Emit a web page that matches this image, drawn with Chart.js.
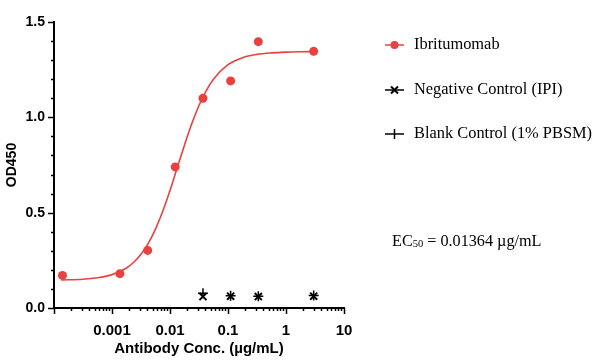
<!DOCTYPE html>
<html>
<head>
<meta charset="utf-8">
<script src="https://cdn.jsdelivr.net/npm/chart.js@4"></script>
<style>
  html, body { margin: 0; padding: 0; background: #fff; }
  #wrap { width: 605px; height: 364px; position: relative; }
</style>
</head>
<body>
<div id="wrap"><canvas id="chartElisa"></canvas></div>
<script>
  // ---- data ----
  const seriesNames = ["Ibritumomab", "Negative Control (IPI)", "Blank Control (1% PBSM)"];

  // Ibritumomab measured points
  const conc = [0.00014, 0.00137, 0.00412, 0.0123, 0.037, 0.111, 0.333, 3];
  const od   = [0.171, 0.180, 0.302, 0.740, 1.100, 1.191, 1.397, 1.346];

  // fitted curve as traced on the picture
  const fitConc = [0.000133, 0.000316, 0.000562, 0.001, 0.00178, 0.00237, 0.00316, 0.00422, 0.00562, 0.0075,
                   0.01, 0.0133, 0.0178, 0.0237, 0.0316, 0.0422, 0.0562, 0.1, 0.178, 0.316, 0.562, 1, 1.78, 3];
  const fitOD   = [0.147, 0.151, 0.159, 0.175, 0.210, 0.240, 0.282, 0.339, 0.414, 0.507,
                   0.616, 0.735, 0.855, 0.966, 1.062, 1.140, 1.200, 1.276, 1.313, 1.330, 1.338, 1.342, 1.344, 1.345];

  // controls
  const ctrlConc = [0.037, 0.111, 0.333, 3];
  const negOD    = [0.060, 0.062, 0.060, 0.062];
  const blankOD  = [0.078, 0.064, 0.062, 0.066];

  // ticks
  const xTicks = [0.001, 0.01, 0.1, 1, 10];
  const yTicks = [0, 0.5, 1.0, 1.5];

  const ec50Label = "0.01364 µg/mL";

  const RED = "#E8413F";
  const pts = (xs, ys) => xs.map((x, i) => ({ x: x, y: ys[i] }));

  // tick marks (major + minor) drawn on the library's scales
  const tickMarks = {
    id: "tickMarks",
    afterDraw(chart) {
      const ctx = chart.ctx;
      const xs = chart.scales.x, ys = chart.scales.y;
      const a = chart.chartArea;
      ctx.save();
      ctx.strokeStyle = "#000";
      ctx.lineWidth = 1.5;
      ctx.beginPath();
      for (let e = -4; e <= 1; e++) {
        for (let k = 1; k <= 9; k++) {
          const v = k * Math.pow(10, e);
          if (v < xs.min * 0.999 || v > xs.max * 1.001) continue;
          const px = Math.round(xs.getPixelForValue(v)) + 0.5;
          const len = k === 1 ? 6 : 3;
          ctx.moveTo(px, a.bottom);
          ctx.lineTo(px, a.bottom + len);
        }
      }
      for (let i = 0; i <= 15; i++) {
        const v = i / 10;
        const py = Math.round(ys.getPixelForValue(v)) + 0.5;
        const len = i % 5 === 0 ? 6 : 3;
        ctx.moveTo(a.left, py);
        ctx.lineTo(a.left - len, py);
      }
      ctx.stroke();
      ctx.restore();
    }
  };

  // legend + EC50 note to the right of the plot
  const sideNotes = {
    id: "sideNotes",
    afterDraw(chart) {
      const ctx = chart.ctx;
      const x0 = chart.chartArea.right + 41;
      const rows = [45, 90, 134];
      const serif = "'Liberation Serif', 'Times New Roman', serif";
      ctx.save();
      ctx.font = "16.4px " + serif;
      ctx.textBaseline = "middle";
      rows.forEach((y, i) => {
        const col = i === 0 ? RED : "#000";
        ctx.strokeStyle = col;
        ctx.fillStyle = col;
        ctx.lineWidth = 1.5;
        ctx.beginPath();
        ctx.moveTo(x0, y); ctx.lineTo(x0 + 19, y);
        ctx.stroke();
        const cx = x0 + 9.5;
        if (i === 0) {
          ctx.beginPath(); ctx.arc(cx, y, 4, 0, Math.PI * 2); ctx.fill();
        } else if (i === 1) {
          ctx.lineWidth = 2;
          ctx.beginPath();
          ctx.moveTo(cx - 3.5, y - 3.5); ctx.lineTo(cx + 3.5, y + 3.5);
          ctx.moveTo(cx + 3.5, y - 3.5); ctx.lineTo(cx - 3.5, y + 3.5);
          ctx.stroke();
        } else {
          ctx.lineWidth = 1.5;
          ctx.beginPath();
          ctx.moveTo(cx, y - 5); ctx.lineTo(cx, y + 5);
          ctx.stroke();
        }
        ctx.fillStyle = "#000";
        ctx.fillText(seriesNames[i], x0 + 29, y);
      });
      // EC50
      const ey = 242;
      const ex = x0 + 7;
      ctx.font = "16.2px " + serif;
      ctx.fillText("EC", ex, ey);
      let w = ctx.measureText("EC").width;
      ctx.font = "10.5px " + serif;
      ctx.fillText("50", ex + w, ey + 2);
      w += ctx.measureText("50").width;
      ctx.font = "16.2px " + serif;
      ctx.fillText(" = " + ec50Label, ex + w, ey);
      ctx.restore();
    }
  };

  const sans = "'Liberation Sans', Arial, sans-serif";
  const yFont = { family: sans, size: 14, weight: "bold" };
  const xFont = { family: sans, size: 15, weight: "bold" };

  new Chart(document.getElementById("chartElisa"), {
    type: "scatter",
    data: {
      datasets: [
        {
          label: "fit",
          data: pts(fitConc, fitOD),
          showLine: true,
          borderColor: RED,
          borderWidth: 1.6,
          pointRadius: 0,
          cubicInterpolationMode: "monotone",
          fill: false
        },
        {
          label: seriesNames[0],
          data: pts(conc, od),
          backgroundColor: RED,
          borderColor: RED,
          pointRadius: 4.5,
          pointBorderWidth: 0
        },
        {
          label: seriesNames[1],
          data: pts(ctrlConc, negOD),
          pointStyle: "crossRot",
          pointRadius: 5,
          borderColor: "#000",
          pointBorderWidth: 2
        },
        {
          label: seriesNames[2],
          data: pts(ctrlConc, blankOD),
          pointStyle: "cross",
          pointRadius: 5,
          borderColor: "#000",
          pointBorderWidth: 1.5
        }
      ]
    },
    options: {
      responsive: true,
      maintainAspectRatio: false,
      animation: false,
      layout: { padding: { top: 22, right: 261, bottom: 0, left: 0 } },
      plugins: {
        legend: { display: false },
        tooltip: { enabled: false }
      },
      scales: {
        x: {
          type: "logarithmic",
          min: 0.0001,
          max: 10,
          grid: { display: false },
          border: { display: true, color: "#000", width: 2 },
          afterBuildTicks(scale) { scale.ticks = xTicks.map(v => ({ value: v })); },
          afterFit(scale) { scale.height = 56; },
          ticks: {
            color: "#000",
            font: xFont,
            padding: 6,
            maxRotation: 0,
            autoSkip: false,
            callback: v => String(v)
          },
          title: {
            display: true,
            text: "Antibody Conc. (µg/mL)",
            color: "#000",
            font: xFont,
            padding: { top: 0, bottom: 6 }
          }
        },
        y: {
          min: 0,
          max: 1.5,
          grid: { display: false, drawTicks: false },
          border: { display: true, color: "#000", width: 2 },
          afterBuildTicks(scale) { scale.ticks = yTicks.map(v => ({ value: v })); },
          afterFit(scale) { scale.width = 54; },
          ticks: {
            color: "#000",
            font: yFont,
            padding: 9,
            callback: v => v.toFixed(1)
          },
          title: {
            display: true,
            text: "OD450",
            color: "#000",
            font: yFont,
            padding: { top: 4, bottom: 0 }
          }
        }
      }
    },
    plugins: [tickMarks, sideNotes]
  });
</script>
</body>
</html>
